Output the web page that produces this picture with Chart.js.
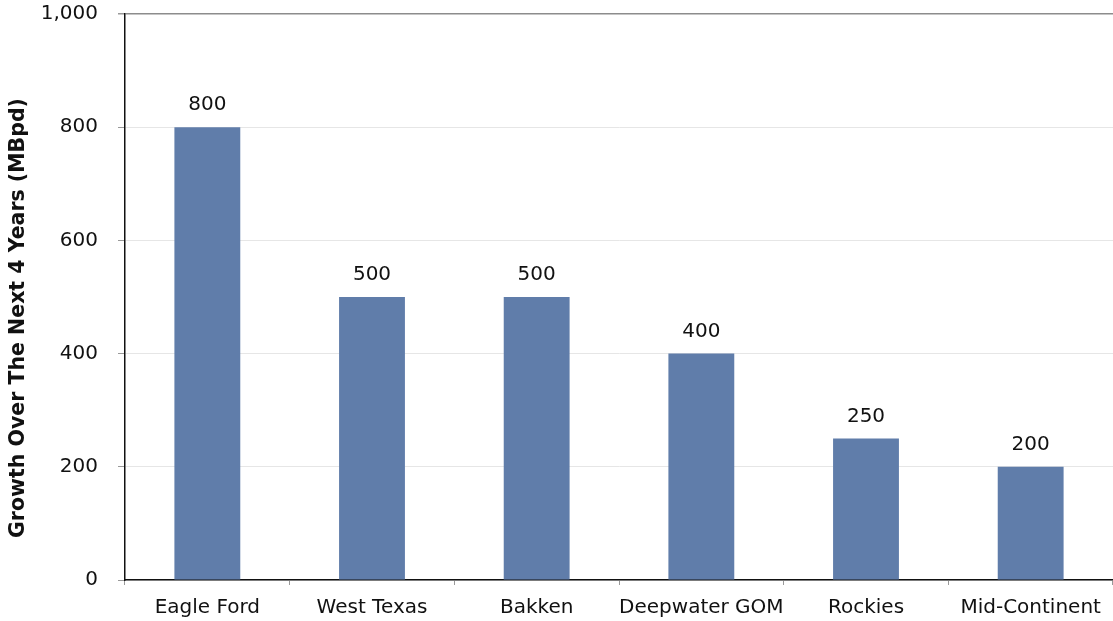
<!DOCTYPE html>
<html>
<head>
<meta charset="utf-8">
<script src="https://cdn.jsdelivr.net/npm/chart.js@4/dist/chart.umd.min.js"></script>
<style>
html,body{margin:0;padding:0;background:#fff;}
#wrap{width:1113px;height:621px;position:relative;}
</style>
</head>
<body>
<div id="wrap"><canvas id="c" width="1113" height="621"></canvas></div>
<script>
const categories = ["Eagle Ford", "West Texas", "Bakken", "Deepwater GOM", "Rockies", "Mid-Continent"];
const growthValues = [800, 500, 500, 400, 250, 200];
const yTickValues = [0, 200, 400, 600, 800, 1000];
const yAxisTitle = "Growth Over The Next 4 Years (MBpd)";

const FONT = "'DejaVu Sans', Verdana, sans-serif";

const dataLabels = {
  id: 'dataLabels',
  afterDatasetsDraw(chart) {
    const ctx = chart.ctx;
    const meta = chart.getDatasetMeta(0);
    ctx.save();
    ctx.font = "20px " + FONT;
    ctx.fillStyle = "#111";
    ctx.textAlign = "center";
    ctx.textBaseline = "middle";
    meta.data.forEach((bar, i) => {
      ctx.fillText(String(growthValues[i]), bar.x, bar.y - 22);
    });
    ctx.restore();
  }
};

const yTitlePlugin = {
  id: 'yTitle',
  afterDraw(chart) {
    const ctx = chart.ctx;
    ctx.save();
    ctx.translate(19, 318);
    ctx.rotate(-Math.PI / 2);
    ctx.font = "bold 20.5px " + FONT;
    ctx.fillStyle = "#111";
    ctx.textAlign = "center";
    ctx.textBaseline = "middle";
    ctx.fillText(yAxisTitle, 0, 0);
    ctx.restore();
  }
};

new Chart(document.getElementById('c'), {
  type: 'bar',
  data: {
    labels: categories,
    datasets: [{
      data: growthValues,
      backgroundColor: '#607DAA',
      borderWidth: 0,
      categoryPercentage: 1.0,
      barPercentage: 0.4
    }]
  },
  options: {
    responsive: false,
    animation: false,
    devicePixelRatio: 1,
    layout: { padding: { top: 14, right: 0, left: 0, bottom: 0 } },
    plugins: {
      legend: { display: false },
      tooltip: { enabled: false }
    },
    scales: {
      x: {
        afterFit(s) { s.height = 41; s.paddingLeft = 0; s.paddingRight = 0; },
        grid: {
          drawOnChartArea: false,
          offset: true,
          tickLength: 5,
          tickColor: '#999',
          lineWidth: 1
        },
        border: { color: '#111', width: 1.5 },
        ticks: {
          color: '#111',
          font: { family: FONT, size: 20 },
          padding: 11,
          maxRotation: 0,
          autoSkip: false
        }
      },
      y: {
        min: 0,
        max: 1000,
        afterFit(s) { s.width = 125; s.paddingTop = 0; s.paddingBottom = 0; },
        afterBuildTicks(s) { s.ticks = yTickValues.map(v => ({ value: v })); },
        grid: {
          color: (c) => (c.tick && c.tick.value === 1000) ? '#8c8c8c' : '#e6e6e6',
          lineWidth: (c) => (c.tick && c.tick.value === 1000) ? 1.5 : 1,
          tickLength: 7,
          tickColor: '#999'
        },
        border: { color: '#111', width: 1.5 },
        ticks: {
          color: '#111',
          font: { family: FONT, size: 20 },
          padding: 20,
          callback: (v) => v.toLocaleString('en-US')
        },
        title: { display: false }
      }
    }
  },
  plugins: [dataLabels, yTitlePlugin]
});
</script>
</body>
</html>
